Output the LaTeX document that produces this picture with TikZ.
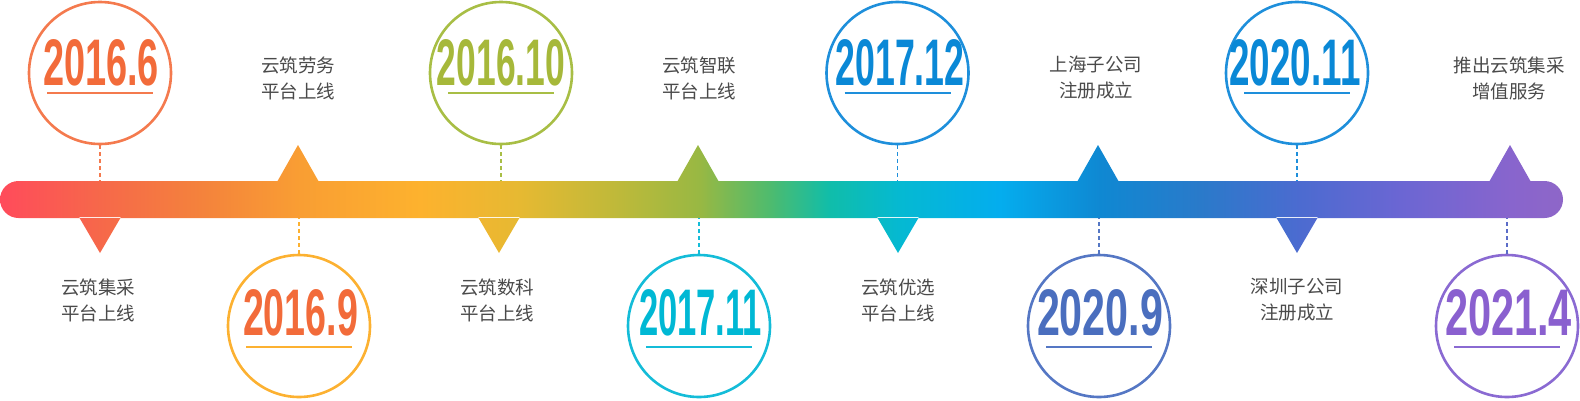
\documentclass[tikz,border=0pt]{standalone}
\usepackage{fontspec}
\usepackage{graphicx}
\usepackage{tikz}
\usetikzlibrary{calc}
\setmainfont{Liberation Sans}
\newfontfamily\cjk{Noto Sans CJK SC}

\definecolor{ringA}{HTML}{F47A4E}
\definecolor{ringB}{HTML}{FCB131}
\definecolor{ringC}{HTML}{A8BE45}
\definecolor{ringD}{HTML}{14BCD8}
\definecolor{ringE}{HTML}{1E8FDB}
\definecolor{ringF}{HTML}{5577C4}
\definecolor{ringG}{HTML}{8A6AD2}
\definecolor{dateA}{HTML}{F26B3A}
\definecolor{dateC}{HTML}{A6B83A}
\definecolor{dateD}{HTML}{00B8D4}
\definecolor{dateE}{HTML}{0A88D6}
\definecolor{dateF}{HTML}{4A6EBE}
\definecolor{dateG}{HTML}{8A60CF}
\definecolor{linkG}{HTML}{5B6CC8}
\definecolor{notegray}{HTML}{4A4A4A}

\definecolor{tl0}{HTML}{FF4B5B}
\definecolor{tl1}{HTML}{F6684A}
\definecolor{tl2}{HTML}{F4823C}
\definecolor{tl3}{HTML}{F99E33}
\definecolor{tl4}{HTML}{FDB22E}
\definecolor{tl5}{HTML}{E6B932}
\definecolor{tl6}{HTML}{BDB93A}
\definecolor{tl7}{HTML}{98B843}
\definecolor{tl8}{HTML}{4EBB6E}
\definecolor{tl9}{HTML}{10BDAA}
\definecolor{tl10}{HTML}{05B9D2}
\definecolor{tl11}{HTML}{04ADEE}
\definecolor{tl12}{HTML}{0F88D2}
\definecolor{tl13}{HTML}{2A7ACA}
\definecolor{tl14}{HTML}{4C6BD0}
\definecolor{tl15}{HTML}{6B66D3}
\definecolor{tl16}{HTML}{8865CD}
\definecolor{tl17}{HTML}{8E66C8}
\pgfdeclarehorizontalshading{timeline}{100bp}{color(0bp)=(tl0); color(25bp)=(tl0);
  color(28.2bp)=(tl1); color(31.4bp)=(tl2); color(34.6bp)=(tl3); color(38.44bp)=(tl4);
  color(41.64bp)=(tl5); color(44.84bp)=(tl6); color(47.39bp)=(tl7); color(49.62bp)=(tl8);
  color(51.55bp)=(tl9); color(53.79bp)=(tl10); color(56.99bp)=(tl11); color(60.19bp)=(tl12);
  color(63.39bp)=(tl13); color(66.59bp)=(tl14); color(69.79bp)=(tl15); color(73.3bp)=(tl16);
  color(75bp)=(tl17); color(100bp)=(tl17)}

\begin{document}
\begin{tikzpicture}[x=1pt, y=-1pt,
    ring/.style = {draw, circle, minimum size=142pt, line width=2.6pt, inner sep=0pt},
    datetext/.style = {inner sep=0pt, font=\bfseries},
    uline/.style = {line width=1.4pt},
    link/.style = {line width=1.8pt, dash pattern=on 4pt off 3pt},
    note/.style = {align=center, text=notegray, inner sep=0pt,
                   font=\cjk\fontsize{18.5}{26}\selectfont}]
        \useasboundingbox (0,0) rectangle (1580,400);
        % bar and pointers
        \begin{scope}
        \clip[rounded corners=18.5pt] (0,181) -- (1563,181) -- (1563,218) -- (0,218) -- cycle
          [sharp corners]
          (79,217) -- (100,253) -- (121,217) -- cycle
          (277,182) -- (298,145) -- (319,182) -- cycle
          (478,217) -- (499,253) -- (520,217) -- cycle
          (677,182) -- (698,145) -- (719,182) -- cycle
          (877,217) -- (898,253) -- (919,217) -- cycle
          (1077,182) -- (1098,145) -- (1119,182) -- cycle
          (1276,217) -- (1297,253) -- (1318,217) -- cycle
          (1489,182) -- (1510,145) -- (1531,182) -- cycle;
        \shade[shading=timeline] (0,140) rectangle (1563,260);
        \end{scope}
        \coordinate (t1) at (100,181);
        \coordinate (t2) at (299,218);
        \coordinate (t3) at (501,181);
        \coordinate (t4) at (699,218);
        \coordinate (t5) at (897.5,181);
        \coordinate (t6) at (1099,218);
        \coordinate (t7) at (1297,181);
        \coordinate (t8) at (1507,218);
        % circles
        \node[ring, draw=ringA] at (100,73) (c1) {};
        \node[ring, draw=ringB] at (299,326) (c2) {};
        \node[ring, draw=ringC] at (501,73) (c3) {};
        \node[ring, draw=ringD] at (699,326) (c4) {};
        \node[ring, draw=ringE] at (897.5,73) (c5) {};
        \node[ring, draw=ringF] at (1099,326) (c6) {};
        \node[ring, draw=ringE] at (1297,73) (c7) {};
        \node[ring, draw=ringG] at (1507,326) (c8) {};
        \node[datetext, text=dateA] at (101,63) (d1) {\resizebox{116pt}{46pt}{2016.6}};
        \node[datetext, text=dateA] at (300.5,313) (d2) {\resizebox{115pt}{46pt}{2016.9}};
        \node[datetext, text=dateC] at (501,63) (d3) {\resizebox{128pt}{46pt}{2016.10}};
        \node[datetext, text=dateD] at (700.5,313) (d4) {\resizebox{123pt}{46pt}{2017.11}};
        \node[datetext, text=dateE] at (900,63) (d5) {\resizebox{129pt}{46pt}{2017.12}};
        \node[datetext, text=dateF] at (1100,313) (d6) {\resizebox{126pt}{46pt}{2020.9}};
        \node[datetext, text=dateE] at (1295,63) (d7) {\resizebox{131pt}{46pt}{2020.11}};
        \node[datetext, text=dateG] at (1508.5,313) (d8) {\resizebox{127pt}{46pt}{2021.4}};
        \draw[uline, ringA] ($(c1)+(-53,20)$) -- ++(106,0);
        \draw[uline, ringB] ($(c2)+(-53,21)$) -- ++(106,0);
        \draw[uline, ringC] ($(c3)+(-53,20)$) -- ++(106,0);
        \draw[uline, ringD] ($(c4)+(-53,21)$) -- ++(106,0);
        \draw[uline, ringE] ($(c5)+(-53,20)$) -- ++(106,0);
        \draw[uline, ringF] ($(c6)+(-53,21)$) -- ++(106,0);
        \draw[uline, ringE] ($(c7)+(-53,20)$) -- ++(106,0);
        \draw[uline, ringG] ($(c8)+(-53,21)$) -- ++(106,0);
        \draw[link, ringA] (c1) -- (t1);
        \draw[link, ringB] (c2) -- (t2);
        \draw[link, ringC] (c3) -- (t3);
        \draw[link, ringD] (c4) -- (t4);
        \draw[link, ringE] (c5) -- (t5);
        \draw[link, ringF] (c6) -- (t6);
        \draw[link, ringE] (c7) -- (t7);
        \draw[link, linkG] (c8) -- (t8);
        % notes
        \node[note] at (98,300) (n1) {云筑集采\\平台上线};
        \node[note] at (298,78) (n2) {云筑劳务\\平台上线};
        \node[note] at (497,300) (n3) {云筑数科\\平台上线};
        \node[note] at (699,78) (n4) {云筑智联\\平台上线};
        \node[note] at (898,300) (n5) {云筑优选\\平台上线};
        \node[note] at (1096,78) (n6) {上海子公司\\注册成立};
        \node[note] at (1297,300) (n7) {深圳子公司\\注册成立};
        \node[note] at (1509,78) (n8) {推出云筑集采\\增值服务};
\end{tikzpicture}
\end{document}
